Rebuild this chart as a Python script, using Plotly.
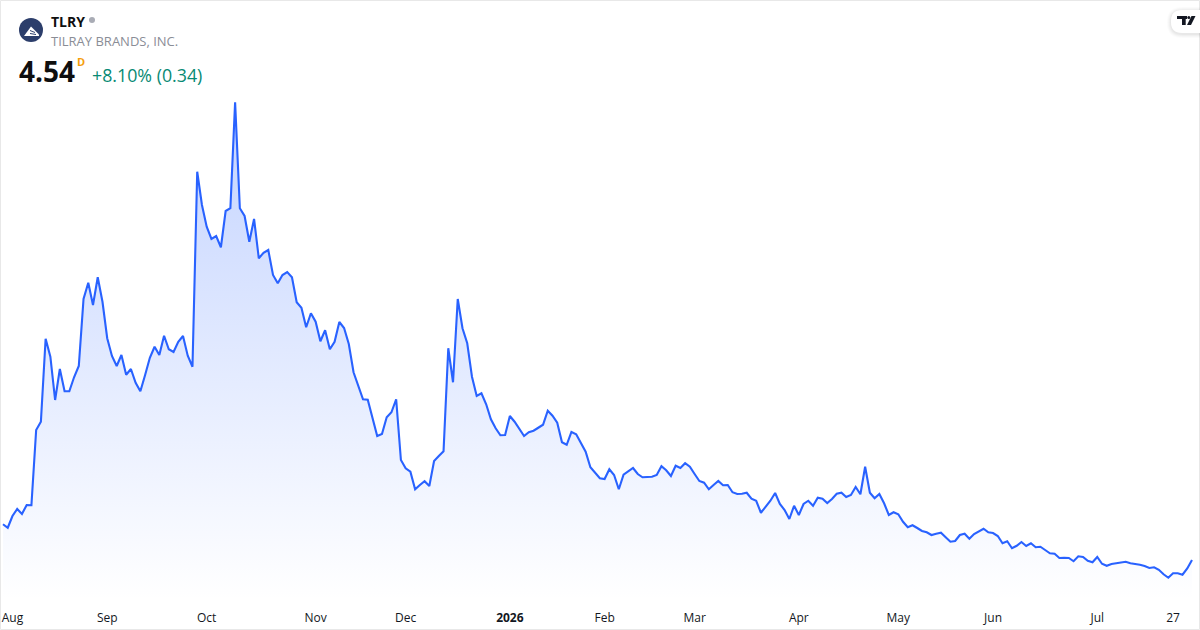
import pandas as pd
import plotly.graph_objects as go

# daily closes, one per trading day, Jul 31 2025 to Jul 31 2026
closes = [
    5.97, 5.83, 6.30, 6.58, 6.38, 6.74, 6.73, 9.74, 10.07, 13.39,
    12.67, 10.94, 12.18, 11.29, 11.29, 11.85, 12.30, 14.98, 15.63, 14.74,
    15.85, 14.87, 13.41, 12.70, 12.30, 12.74, 11.95, 12.18, 11.63, 11.29,
    11.94, 12.63, 13.07, 12.74, 13.51, 12.97, 12.86, 13.27, 13.50, 12.71,
    12.27, 20.07, 18.74, 17.87, 17.38, 17.50, 17.05, 18.50, 18.61, 22.85,
    18.61, 18.30, 17.27, 18.18, 16.61, 16.83, 16.94, 15.94, 15.61, 15.94,
    16.06, 15.85, 14.85, 14.63, 13.85, 14.41, 14.07, 13.29, 13.73, 12.97,
    13.27, 14.06, 13.82, 13.18, 12.05, 11.47, 10.97, 10.95, 10.21, 9.50,
    9.58, 10.25, 10.45, 10.97, 8.54, 8.21, 8.07, 7.37, 7.54, 7.69,
    7.50, 8.50, 8.70, 8.89, 13.01, 11.65, 14.98, 13.81, 13.21, 11.87,
    11.10, 11.21, 10.77, 10.17, 9.81, 9.53, 9.54, 10.30, 10.07, 9.81,
    9.50, 9.65, 9.71, 9.83, 9.95, 10.51, 10.31, 10.03, 9.25, 9.15,
    9.66, 9.57, 9.21, 8.87, 8.25, 8.01, 7.81, 7.78, 8.17, 7.94,
    7.37, 7.95, 8.09, 8.22, 7.98, 7.85, 7.86, 7.87, 7.94, 8.29,
    8.13, 7.90, 8.31, 8.22, 8.41, 8.27, 7.98, 7.70, 7.63, 7.37,
    7.54, 7.70, 7.53, 7.54, 7.25, 7.18, 7.19, 7.23, 6.99, 6.91,
    6.43, 6.67, 6.91, 7.22, 6.78, 6.54, 6.18, 6.71, 6.34, 6.78,
    6.91, 6.71, 7.03, 6.99, 6.82, 6.98, 7.19, 7.23, 7.06, 7.14,
    7.46, 7.17, 8.27, 7.23, 7.01, 7.18, 6.81, 6.34, 6.45, 6.37,
    6.07, 5.85, 5.93, 5.82, 5.70, 5.65, 5.54, 5.59, 5.63, 5.45,
    5.27, 5.30, 5.54, 5.59, 5.39, 5.58, 5.69, 5.79, 5.65, 5.62,
    5.50, 5.21, 5.29, 5.01, 5.11, 5.26, 5.10, 5.21, 5.05, 5.07,
    4.94, 4.81, 4.79, 4.62, 4.63, 4.62, 4.49, 4.69, 4.66, 4.51,
    4.45, 4.66, 4.39, 4.31, 4.38, 4.41, 4.43, 4.47, 4.41, 4.39,
    4.35, 4.30, 4.22, 4.25, 4.15, 3.97, 3.83, 4.01, 4.01, 3.95,
    4.20, 4.54,
]

holidays = ["2025-09-01", "2025-11-27", "2025-12-25", "2026-01-01", "2026-01-19",
            "2026-02-16", "2026-04-03", "2026-05-25", "2026-06-19", "2026-07-03"]

# days the axis labels sit on
tick_days = ["2025-08-04", "2025-09-02", "2025-10-01", "2025-11-03", "2025-12-01",
             "2026-01-02", "2026-02-02", "2026-03-02", "2026-04-01", "2026-05-01",
             "2026-06-01", "2026-07-02", "2026-07-27"]
tick_labels = ["Aug", "Sep", "Oct", "Nov", "Dec", "<b>2026</b>", "Feb", "Mar", "Apr",
               "May", "Jun", "Jul", "27"]

W, H = 1200, 630
PLOT_H = 600  # paper coords only cover the plot area, not the bottom margin
FONT = "Open Sans"

days = pd.bdate_range("2025-07-31", "2026-07-31")
days = [d.strftime("%Y-%m-%d") for d in days if d.strftime("%Y-%m-%d") not in holidays]


def fx(x):
    return x / W


def fy(y):
    return 1 - y / PLOT_H


def pill(x0, y0, x1, y1, r):
    # rounded on the left, runs off the right edge
    return (f"M {fx(x1)} {fy(y0)} L {fx(x0 + r)} {fy(y0)} "
            f"Q {fx(x0)} {fy(y0)} {fx(x0)} {fy(y0 + r)} L {fx(x0)} {fy(y1 - r)} "
            f"Q {fx(x0)} {fy(y1)} {fx(x0 + r)} {fy(y1)} L {fx(x1)} {fy(y1)} Z")


def poly(points):
    return "M " + " L ".join(f"{fx(x)} {fy(y)}" for x, y in points) + " Z"


def paper_shape(path, fill, line="rgba(0,0,0,0)", width=0):
    return dict(type="path", xref="paper", yref="paper", path=path, fillcolor=fill,
                line=dict(color=line, width=width), layer="above")


fig = go.Figure()
fig.add_trace(go.Scatter(
    x=days, y=closes, mode="lines",
    line=dict(color="#2962FF", width=2.1),
    fill="tozeroy",
    fillcolor="rgba(41,98,255,0.1)",
    fillgradient=dict(type="vertical", start=max(closes), stop=2.94,
                      colorscale=[[0, "rgba(41,98,255,0.28)"], [1, "rgba(41,98,255,0)"]]),
    hoverinfo="skip",
))

shapes = [
    # card border
    dict(type="rect", xref="paper", yref="paper", x0=fx(0.5), x1=fx(1199.5), y0=fy(629.5), y1=fy(0.5),
         line=dict(color="#E8E8E8", width=1), fillcolor="rgba(0,0,0,0)", layer="above"),
]
# logo pill with soft shadow
for grow, alpha in [(4, 0.015), (3, 0.02), (2, 0.025), (1, 0.03)]:
    shapes.append(paper_shape(pill(1171 - grow, 10 - grow + 1, 1200, 33 + grow + 1, 11 + grow), f"rgba(0,0,0,{alpha})"))
shapes.append(paper_shape(pill(1171, 10, 1200, 33, 11), "#FFFFFF"))
shapes.append(paper_shape(poly([(1177, 16), (1187, 16), (1187, 19), (1185.7, 19), (1185.7, 25),
                                (1182, 25), (1182, 19), (1177, 19)]), "#131722"))
shapes.append(dict(type="circle", xref="paper", yref="paper", x0=fx(1187.3), x1=fx(1190.3), y0=fy(19), y1=fy(16),
                   fillcolor="#131722", line=dict(width=0), layer="above"))
shapes.append(paper_shape(poly([(1191.5, 16), (1195.5, 16), (1191, 25), (1187, 25)]), "#131722"))
# company badge
shapes.append(dict(type="circle", xref="paper", yref="paper", x0=fx(19), x1=fx(43), y0=fy(42), y1=fy(18),
                   fillcolor="#2C3E6B", line=dict(width=0), layer="above"))
shapes.append(paper_shape(poly([(24, 36), (31, 26.5), (39, 34.5), (39, 36)]), "#FFFFFF"))
shapes.append(paper_shape(poly([(30, 30), (35, 32), (35, 33), (30, 31)]), "#2C3E6B"))
shapes.append(paper_shape(poly([(30, 33), (36, 34), (36, 35), (30, 34)]), "#2C3E6B"))
# market status dot
shapes.append(dict(type="circle", xref="paper", yref="paper", x0=fx(89), x1=fx(95), y0=fy(23), y1=fy(17),
                   fillcolor="#A9ACB5", line=dict(width=0), layer="above"))


def label(x, y, text, size, color):
    fig.add_annotation(xref="paper", yref="paper", x=fx(x), y=fy(y), text=text, showarrow=False,
                       xanchor="left", yanchor="middle", borderpad=0,
                       font=dict(family=FONT, size=size, color=color))


label(50, 21, "<b>TLRY</b>", 14, "#0F0F0F")
label(50, 41, "TILRAY BRANDS, INC.", 13, "#8A8D96")
label(18, 71, "<b>4.54</b>", 28, "#0F0F0F")
label(76, 61, "<b>D</b>", 11, "#F59E0B")
label(91, 75, "+8.10% (0.34)", 17.8, "#078A74")

fig.update_layout(
    width=W, height=H,
    margin=dict(l=0, r=0, t=0, b=30),
    paper_bgcolor="#FFFFFF", plot_bgcolor="#FFFFFF",
    showlegend=False,
    shapes=shapes,
    font=dict(family=FONT, size=12, color="#131722"),
    xaxis=dict(type="category", categoryorder="trace", range=[-0.633, 252.69],
               tickmode="array", tickvals=tick_days, ticktext=tick_labels,
               showgrid=False, zeroline=False, showline=False,
               ticks="outside", ticklen=7, tickcolor="rgba(0,0,0,0)", tickangle=0,
               tickfont=dict(family=FONT, size=12, color="#131722")),
    yaxis=dict(range=[2.94, 26.94], visible=False, showgrid=False, zeroline=False),
)

# the browser's default body margin would push the chart off the window
fig.write_html("out.html", config={"displayModeBar": False},
               post_script="document.body.style.margin='0';")
